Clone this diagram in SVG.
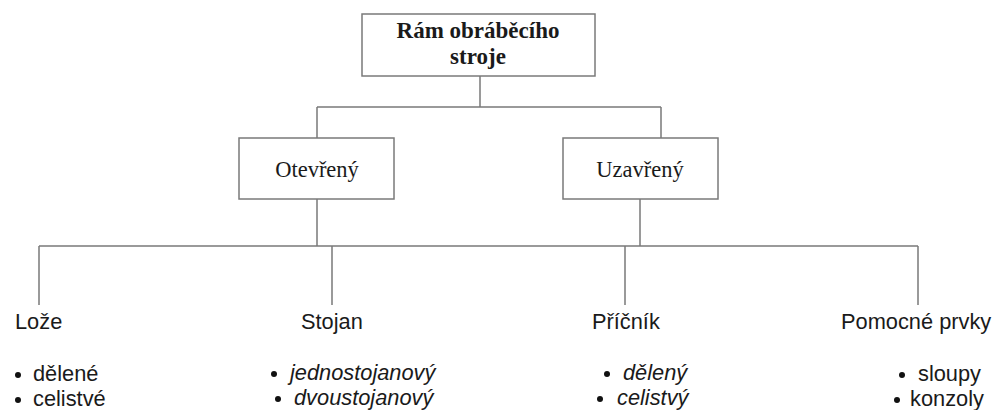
<svg xmlns="http://www.w3.org/2000/svg" width="1002" height="410" viewBox="0 0 1002 410">
<style>
.box{fill:#fff;stroke:#7a7a7a;stroke-width:1.5}
.con{fill:none;stroke:#7a7a7a;stroke-width:1.5}
.serif{font-family:"Liberation Serif","Times New Roman",serif;font-size:22.5px;fill:#1a1a1a;text-anchor:middle}
.bold{font-weight:bold;font-size:23px}
.sans{font-family:"Liberation Sans",Arial,sans-serif;font-size:21.8px;fill:#1a1a1a}
.it{font-style:italic}
.dot{fill:#111}
</style>
<rect width="1002" height="410" fill="#fff"/>
<g id="connectors">
<path class="con" d="M480,76 V107 M317,107 H661 M317,107 V138 M661,107 V138 M317,199 V246 M640,199 V246 M39,246 H918 M39,246 V305 M332,246 V305 M625,246 V305 M918,246 V305"/>
</g>
<g id="root">
<rect class="box" x="362" y="14" width="233" height="62"/>
<text class="serif bold" x="478" y="38">Rám obráběcího</text>
<text class="serif bold" x="478" y="64">stroje</text>
</g>
<g id="otevreny">
<rect class="box" x="239" y="138" width="155" height="61"/>
<text class="serif" x="317" y="177">Otevřený</text>
</g>
<g id="uzavreny">
<rect class="box" x="563" y="138" width="155" height="61"/>
<text class="serif" x="640" y="177">Uzavřený</text>
</g>
<g id="loze">
<text class="sans" x="15" y="329">Lože</text>
<circle class="dot" cx="18" cy="375" r="3"/>
<text class="sans" x="33" y="381">dělené</text>
<circle class="dot" cx="18" cy="400" r="3"/>
<text class="sans" x="33" y="406">celistvé</text>
</g>
<g id="stojan">
<text class="sans" x="301" y="329">Stojan</text>
<circle class="dot" cx="274" cy="374" r="3"/>
<text class="sans it" x="290" y="380">jednostojanový</text>
<circle class="dot" cx="278" cy="399" r="3"/>
<text class="sans it" x="294" y="405">dvoustojanový</text>
</g>
<g id="pricnik">
<text class="sans" x="592" y="329">Příčník</text>
<circle class="dot" cx="607" cy="374" r="3"/>
<text class="sans it" x="623" y="380">dělený</text>
<circle class="dot" cx="600" cy="399" r="3"/>
<text class="sans it" x="617" y="405">celistvý</text>
</g>
<g id="pomocne">
<text class="sans" x="841" y="329">Pomocné prvky</text>
<circle class="dot" cx="902" cy="375" r="3"/>
<text class="sans" x="918" y="381">sloupy</text>
<circle class="dot" cx="897" cy="400" r="3"/>
<text class="sans" x="910" y="406">konzoly</text>
</g>
</svg>
